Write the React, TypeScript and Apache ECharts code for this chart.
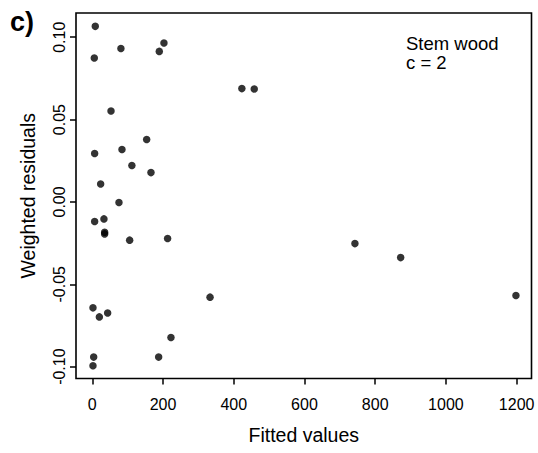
import React, { useEffect, useRef } from "react";
import * as echarts from "echarts";

const fittedValues = [
  8.5, 5.7, 81, 189.5, 202.7, 423, 458, 53, 153.8, 84, 6.7, 112, 166, 23.7,
  75.5, 6.7, 33, 35, 35, 105.7, 213, 333, 2, 20, 43.5, 222.5, 187.7, 4, 2,
  742.7, 872, 1198,
];
const weightedResiduals = [
  0.1066, 0.0874, 0.0931, 0.0914, 0.0965, 0.0688, 0.0686, 0.0552, 0.0379,
  0.0318, 0.0294, 0.0221, 0.0178, 0.0109, -0.0004, -0.0119, -0.0103, -0.0184,
  -0.0194, -0.0232, -0.0222, -0.0578, -0.0643, -0.0698, -0.0674, -0.0823,
  -0.0942, -0.0942, -0.0995, -0.0253, -0.0338, -0.0568,
];
const xTicks = [0, 200, 400, 600, 800, 1000, 1200];
const yTicks = [-0.1, -0.05, 0, 0.05, 0.1];

const FONT = "Liberation Sans, Arial, sans-serif";

export default function App() {
  const ref = useRef<HTMLDivElement>(null);
  useEffect(() => {
    if (!ref.current) return;
    const chart = echarts.init(ref.current, undefined, { renderer: "svg" });
    const data = fittedValues.map((x, i) => [x, weightedResiduals[i]]);
    chart.setOption({
      animation: false,
      backgroundColor: "#ffffff",
      grid: {
        left: 76,
        top: 13,
        right: 6.5,
        bottom: 74.5,
        show: true,
        borderColor: "#000",
        borderWidth: 1.6,
        containLabel: false,
        outerBoundsMode: "none",
      },
      xAxis: {
        type: "value",
        min: -46,
        max: 1242,
        name: "Fitted values",
        nameLocation: "middle",
        nameGap: 46,
        nameTextStyle: { fontFamily: FONT, fontSize: 19.5, color: "#000" },
        splitLine: { show: false },
        axisLine: { show: false, onZero: false },
        axisTick: {
          show: true,
          length: 6,
          lineStyle: { color: "#000", width: 1.5 },
          customValues: xTicks,
        },
        axisLabel: {
          customValues: xTicks,
          margin: 18,
          fontFamily: FONT,
          fontSize: 16,
          color: "#000",
          formatter: (v: number) => String(v),
        },
      },
      yAxis: {
        type: "value",
        min: -0.1072,
        max: 0.1147,
        name: "Weighted residuals",
        nameLocation: "middle",
        nameGap: 38,
        nameRotate: 90,
        nameTextStyle: { fontFamily: FONT, fontSize: 19.5, color: "#000" },
        splitLine: { show: false },
        axisLine: { show: false, onZero: false },
        axisTick: {
          show: true,
          length: 6,
          lineStyle: { color: "#000", width: 1.5 },
          customValues: yTicks,
        },
        axisLabel: {
          customValues: yTicks,
          rotate: 90,
          margin: 9,
          fontFamily: FONT,
          fontSize: 16,
          color: "#000",
          formatter: (v: number) => v.toFixed(2),
        },
      },
      graphic: [
        {
          type: "text",
          left: 10,
          top: 8,
          style: {
            text: "c)",
            font: `bold 27px ${FONT}`,
            fill: "#000",
          },
        },
        {
          type: "text",
          x: 406,
          y: 34,
          style: {
            text: "Stem wood",
            font: `18.5px ${FONT}`,
            fill: "#000",
          },
        },
        {
          type: "text",
          x: 406,
          y: 53,
          style: {
            text: "c = 2",
            font: `18.5px ${FONT}`,
            fill: "#000",
          },
        },
      ],
      series: [
        {
          type: "scatter",
          data,
          symbol: "circle",
          symbolSize: 7.5,
          itemStyle: { color: "#000" },
        },
      ],
    });
    return () => chart.dispose();
  }, []);
  return (
    <div
      ref={ref}
      style={{ position: "fixed", left: 0, top: 0, width: 538, height: 453 }}
    />
  );
}
